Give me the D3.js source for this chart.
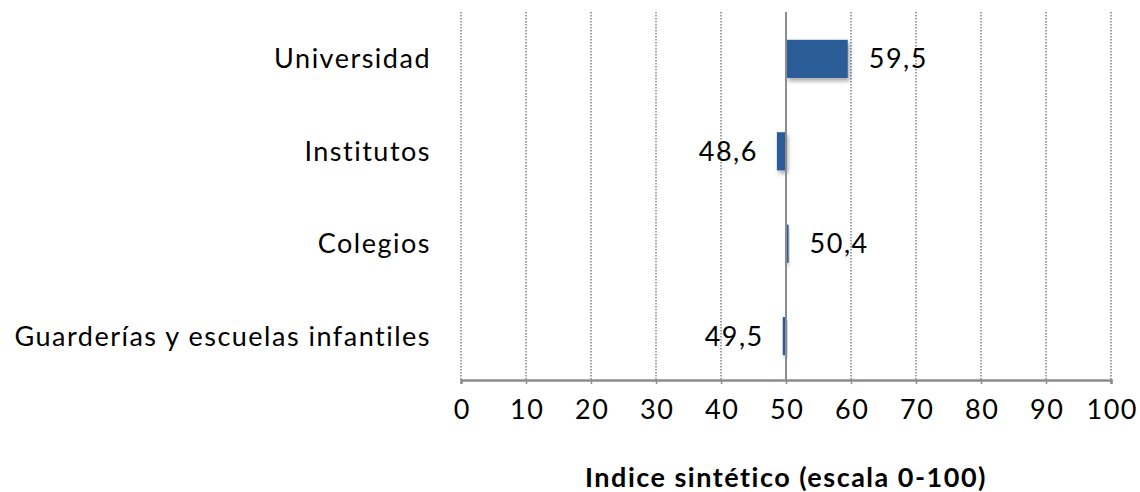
<!DOCTYPE html>
<html>
<head>
<meta charset="utf-8">
<script src="https://cdn.jsdelivr.net/npm/d3@7"></script>
<style>
  body { margin: 0; background: #fff; }
  svg { display: block; font-family: Lato, "Open Sans", sans-serif; }
  text { letter-spacing: 1.5px; }
</style>
</head>
<body>
<svg id="chart"></svg>
<script>
// data
const categories = ["Universidad", "Institutos", "Colegios", "Guarderías y escuelas infantiles"];
const values = [59.5, 48.6, 50.4, 49.5];
const xTicks = [0, 10, 20, 30, 40, 50, 60, 70, 80, 90, 100];
const baseline = 50;
const axisTitle = "Indice sintético (escala 0-100)";

let svg = d3.select("#chart")
    .attr("width", 1140)
    .attr("height", 492);

// comma decimals
const locale = d3.formatLocale({ decimal: ",", thousands: ".", grouping: [3], currency: ["", "€"] });
const fmt = locale.format(".1f");

let x = d3.scaleLinear().domain([0, 100]).range([461, 1111]);
let y = d3.scaleBand().domain(categories).range([13, 382]).paddingInner(0.587).paddingOuter(0.29);

let plotTop = 12, plotBottom = 380;

// shadow under bars
let defs = svg.append("defs");
let f = defs.append("filter").attr("id", "shadow")
    .attr("x", "-50%").attr("y", "-50%").attr("width", "200%").attr("height", "200%");
f.append("feDropShadow")
    .attr("dx", 2).attr("dy", 3)
    .attr("stdDeviation", 2)
    .attr("flood-color", "#000")
    .attr("flood-opacity", 0.35);

// dotted gridlines
svg.append("g")
    .selectAll("line")
    .data(xTicks.filter(d => d !== baseline))
    .enter().append("line")
    .attr("x1", d => x(d)).attr("x2", d => x(d))
    .attr("y1", plotTop).attr("y2", plotBottom)
    .attr("stroke", "#8a8a8a")
    .attr("stroke-width", 1.6)
    .attr("stroke-dasharray", "1.6,1.4");

// bars from the baseline (50)
svg.append("g")
    .selectAll("rect")
    .data(values)
    .enter().append("rect")
    .attr("x", d => x(Math.min(d, baseline)))
    .attr("width", d => Math.abs(x(d) - x(baseline)))
    .attr("y", (d, i) => y(categories[i]))
    .attr("height", y.bandwidth())
    .attr("fill", "#2B5B97")
    .attr("filter", "url(#shadow)");

// vertical axis line at 50
svg.append("line")
    .attr("x1", x(baseline)).attr("x2", x(baseline))
    .attr("y1", plotTop).attr("y2", plotBottom)
    .attr("stroke", "#8c8c8c")
    .attr("stroke-width", 2);

// bottom axis
let xAxis = d3.axisBottom(x)
    .tickValues(xTicks)
    .tickSize(4)
    .tickPadding(16)
    .tickFormat(d3.format("d"));

let gx = svg.append("g")
    .attr("transform", "translate(0," + plotBottom + ")")
    .call(xAxis);

gx.select(".domain").attr("stroke", "#8c8c8c").attr("stroke-width", 2.5);
gx.selectAll(".tick line").attr("stroke", "#8c8c8c").attr("stroke-width", 1.5);
gx.selectAll(".tick text")
    .attr("fill", "#000")
    .attr("dx", "0.75px")
    .style("font-size", "27px")
    .style("font-family", "Lato, sans-serif");

// category labels
svg.append("g")
    .selectAll("text")
    .data(categories)
    .enter().append("text")
    .attr("x", 431)
    .attr("y", d => y(d) + y.bandwidth() / 2)
    .attr("dy", "0.35em")
    .attr("text-anchor", "end")
    .style("font-size", "27px")
    .text(d => d);

// value labels
svg.append("g")
    .selectAll("text")
    .data(values)
    .enter().append("text")
    .attr("x", d => d >= baseline ? x(d) + 21 : x(d) - 19)
    .attr("y", (d, i) => y(categories[i]) + y.bandwidth() / 2)
    .attr("dy", "0.35em")
    .attr("text-anchor", d => d >= baseline ? "start" : "end")
    .style("font-size", "27px")
    .text(d => fmt(d));

// axis title
svg.append("text")
    .attr("x", x(50))
    .attr("y", 478)
    .attr("dy", "0.35em")
    .attr("text-anchor", "middle")
    .style("font-size", "27px")
    .style("font-weight", "bold")
    .text(axisTitle);
</script>
</body>
</html>
